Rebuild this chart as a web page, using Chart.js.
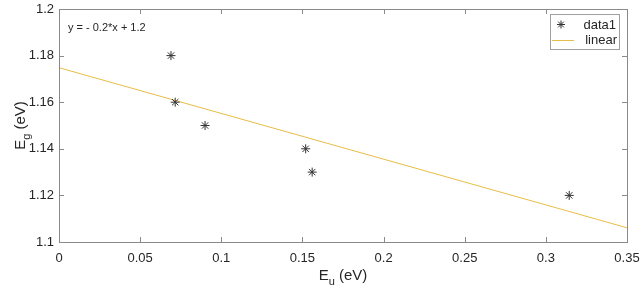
<!DOCTYPE html>
<html>
<head>
<meta charset="utf-8">
<script src="https://cdn.jsdelivr.net/npm/chart.js@4.4.1/dist/chart.umd.min.js"></script>
<style>
  html, body { margin: 0; padding: 0; background: #fff; }
  #wrap { width: 644px; height: 293px; }
</style>
</head>
<body>
<div id="wrap"><canvas id="chart"></canvas></div>
<script>
// measured points (Eu, Eg)
const euValues = [0.069, 0.0716, 0.090, 0.152, 0.156, 0.3144];
const egValues = [1.18, 1.16, 1.15, 1.14, 1.13, 1.12];

// linear fit end points
const fitX = [0, 0.35];
const fitY = [1.1748, 1.1061];

const xTicks = [0, 0.05, 0.1, 0.15, 0.2, 0.25, 0.3, 0.35];
const yTicks = [1.1, 1.12, 1.14, 1.16, 1.18, 1.2];

const seriesNames = ['data1', 'linear'];
const equationText = 'y = - 0.2*x + 1.2';

const FONT = '"Liberation Sans", Arial, sans-serif';
const AXIS_COLOR = '#8a8a8a';
const TEXT_COLOR = '#262626';
const FIT_COLOR = '#E8BC48';

const ctx = document.getElementById('chart').getContext('2d');

// box, inward ticks, axis titles, equation, legend
const decorPlugin = {
    id: 'decor',
    afterDraw(chart) {
        const c = chart.ctx;
        const a = chart.chartArea;
        const xs = chart.scales.x;
        const ys = chart.scales.y;
        c.save();
        c.strokeStyle = AXIS_COLOR;
        c.lineWidth = 1;
        c.strokeRect(Math.round(a.left) + 0.5, Math.round(a.top) + 0.5,
            Math.round(a.right - a.left), Math.round(a.bottom - a.top));

        const tl = 5;
        c.beginPath();
        xTicks.forEach(v => {
            const px = Math.round(xs.getPixelForValue(v)) + 0.5;
            c.moveTo(px, a.bottom); c.lineTo(px, a.bottom - tl);
            c.moveTo(px, a.top); c.lineTo(px, a.top + tl);
        });
        yTicks.forEach(v => {
            const py = Math.round(ys.getPixelForValue(v)) + 0.5;
            c.moveTo(a.left, py); c.lineTo(a.left + tl, py);
            c.moveTo(a.right, py); c.lineTo(a.right - tl, py);
        });
        c.stroke();

        // axis titles with subscripts
        c.fillStyle = TEXT_COLOR;
        c.textBaseline = 'alphabetic';
        c.textAlign = 'left';
        const bigFont = '15px ' + FONT;
        const subFont = '11px ' + FONT;
        const drawTitle = (main, sub, rest) => {
            c.font = bigFont;
            const w1 = c.measureText(main).width;
            const w3 = c.measureText(rest).width;
            c.font = subFont;
            const w2 = c.measureText(sub).width;
            let x = -(w1 + w2 + w3) / 2;
            c.font = bigFont;
            c.fillText(main, x, 0);
            x += w1;
            c.font = subFont;
            c.fillText(sub, x, 5);
            x += w2;
            c.font = bigFont;
            c.fillText(rest, x, 0);
        };
        c.save();
        c.translate((a.left + a.right) / 2, 280);
        drawTitle('E', 'u', ' (eV)');
        c.restore();

        c.save();
        c.translate(25, (a.top + a.bottom) / 2);
        c.rotate(-Math.PI / 2);
        drawTitle('E', 'g', ' (eV)');
        c.restore();

        // equation
        c.font = '11px ' + FONT;
        c.textBaseline = 'middle';
        c.fillText(equationText, a.left + 9, 28);

        // legend
        const lx = 550, ly = 14, lw = 69, lh = 35;
        c.fillStyle = '#fff';
        c.fillRect(lx, ly, lw, lh);
        c.strokeStyle = '#a0a0a0';
        c.strokeRect(lx + 0.5, ly + 0.5, lw, lh);

        c.strokeStyle = '#333';
        c.lineWidth = 1;
        const sx = 561, sy = 24.5, r = 4;
        c.beginPath();
        c.moveTo(sx - r, sy); c.lineTo(sx + r, sy);
        c.moveTo(sx, sy - r); c.lineTo(sx, sy + r);
        const d = r * Math.SQRT1_2;
        c.moveTo(sx - d, sy - d); c.lineTo(sx + d, sy + d);
        c.moveTo(sx - d, sy + d); c.lineTo(sx + d, sy - d);
        c.stroke();

        c.strokeStyle = FIT_COLOR;
        c.beginPath();
        c.moveTo(552, 40.5); c.lineTo(574, 40.5);
        c.stroke();

        c.fillStyle = TEXT_COLOR;
        c.font = '13px ' + FONT;
        c.textAlign = 'right';
        c.fillText(seriesNames[0], 616, 25);
        c.fillText(seriesNames[1], 617, 40);
        c.restore();
    }
};

new Chart(ctx, {
    type: 'scatter',
    data: {
        datasets: [
            {
                label: seriesNames[0],
                data: euValues.map((x, i) => ({ x: x, y: egValues[i] })),
                pointStyle: 'star',
                pointRadius: 4.5,
                pointBorderColor: '#333',
                pointBackgroundColor: '#333',
                pointBorderWidth: 1,
                showLine: false
            },
            {
                label: seriesNames[1],
                data: fitX.map((x, i) => ({ x: x, y: fitY[i] })),
                showLine: true,
                borderColor: FIT_COLOR,
                borderWidth: 1,
                pointRadius: 0,
                fill: false
            }
        ]
    },
    options: {
        responsive: true,
        maintainAspectRatio: false,
        animation: false,
        layout: { padding: { left: 0, right: 17, top: 9, bottom: 0 } },
        plugins: {
            legend: { display: false },
            tooltip: { enabled: false }
        },
        scales: {
            x: {
                type: 'linear',
                min: 0,
                max: 0.35,
                afterBuildTicks: s => { s.ticks = xTicks.map(v => ({ value: v })); },
                afterFit: s => { s.height = 51; s.paddingLeft = 0; s.paddingRight = 0; },
                grid: { display: false, drawTicks: false },
                border: { display: false },
                ticks: {
                    padding: 9,
                    color: TEXT_COLOR,
                    font: { family: FONT, size: 13 },
                    callback: v => String(parseFloat(v.toFixed(2)))
                }
            },
            y: {
                type: 'linear',
                min: 1.1,
                max: 1.2,
                afterBuildTicks: s => { s.ticks = yTicks.map(v => ({ value: v })); },
                afterFit: s => { s.width = 59; s.paddingTop = 0; s.paddingBottom = 0; },
                grid: { display: false, drawTicks: false },
                border: { display: false },
                ticks: {
                    padding: 5,
                    color: TEXT_COLOR,
                    font: { family: FONT, size: 13 },
                    callback: v => String(parseFloat(v.toFixed(2)))
                }
            }
        }
    },
    plugins: [decorPlugin]
});
</script>
</body>
</html>
